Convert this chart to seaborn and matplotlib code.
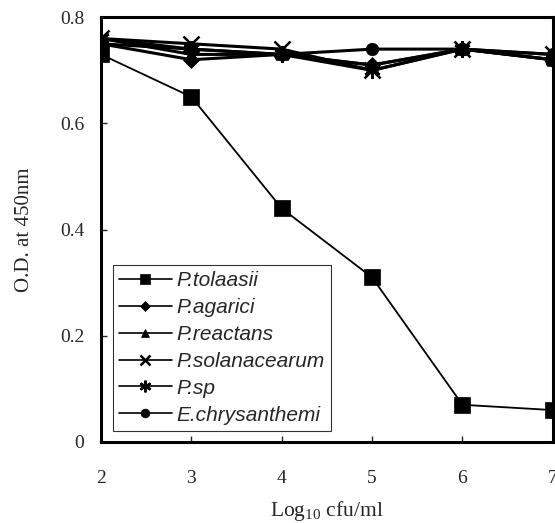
import numpy as np
import pandas as pd
import matplotlib
matplotlib.use("Agg")
import matplotlib.pyplot as plt
import seaborn as sns

# --------------------------------------------------------------
# Data
# --------------------------------------------------------------

log_cfu = [2, 3, 4, 5, 6, 7]
strains = ["P.tolaasii", "P.agarici", "P.reactans", "P.solanacearum", "P.sp", "E.chrysanthemi"]

p_tolaasii = [0.73, 0.65, 0.44, 0.31, 0.07, 0.06]
p_agarici = [0.75, 0.72, 0.73, 0.71, 0.74, 0.72]
p_reactans = [0.76, 0.73, 0.73, 0.71, 0.74, 0.72]
p_solanacearum = [0.76, 0.75, 0.74, 0.70, 0.74, 0.73]
p_sp = [0.76, 0.74, 0.73, 0.70, 0.74, 0.72]
e_chrysanthemi = [0.75, 0.74, 0.73, 0.74, 0.74, 0.73]

series = [p_tolaasii, p_agarici, p_reactans, p_solanacearum, p_sp, e_chrysanthemi]
markers = {"P.tolaasii": "s", "P.agarici": "D", "P.reactans": "^",
           "P.solanacearum": "x", "P.sp": (6, 2, 0), "E.chrysanthemi": "o"}
msizes = {"P.tolaasii": 11, "P.agarici": 8, "P.reactans": 9,
          "P.solanacearum": 11, "P.sp": 12, "E.chrysanthemi": 9}

df = pd.DataFrame({
    "log": np.tile(log_cfu, len(strains)),
    "od": np.concatenate(series),
    "strain": np.repeat(strains, len(log_cfu)),
})

# --------------------------------------------------------------
# Plot
# --------------------------------------------------------------

sns.set_style("ticks")
plt.rcParams["font.family"] = ["Liberation Serif", "DejaVu Serif"]

fig = plt.figure(figsize=(5.55, 5.23), dpi=100)
ax = fig.add_axes([0.182, 0.155, 0.814, 0.812])

for name in strains:
    sub = df[df["strain"] == name]
    lw = 1.3 if name == "P.tolaasii" else 2.2
    sns.lineplot(
        data=sub, x="log", y="od", ax=ax, color="black", label=name,
        marker=markers[name], markersize=msizes[name], linewidth=lw,
        markeredgewidth=1.8 if name in ("P.solanacearum", "P.sp") else 0.5,
        markeredgecolor="black", markerfacecolor="black",
    )

ax.set_xlim(2, 7)
ax.set_ylim(0, 0.8)
ax.set_xticks(log_cfu)
ax.set_yticks([0, 0.2, 0.4, 0.6, 0.8])
ax.set_yticklabels(["0", "0.2", "0.4", "0.6", "0.8"])
ax.tick_params(direction="in", length=4, width=1, labelsize=14)
ax.tick_params(axis="y", pad=12)
ax.tick_params(axis="x", pad=20)
for s in ax.spines.values():
    s.set_linewidth(2.2)
    s.set_color("black")

ax.set_xlabel(r"Log$_{\mathregular{10}}$ cfu/ml", fontsize=15.5, labelpad=9)
ax.set_ylabel("O.D. at 450nm", fontsize=15, labelpad=19)

leg = ax.legend(
    loc="lower left", bbox_to_anchor=(0.027, 0.026), borderaxespad=0,
    frameon=True, fancybox=False, edgecolor="black", markerscale=0.7,
    handlelength=2.5, labelspacing=0.38, borderpad=0.3, handletextpad=0.25,
    prop={"family": "Liberation Sans", "style": "italic", "size": 15},
)
leg.get_frame().set_linewidth(0.8)
for h in leg.get_lines():
    h.set_linewidth(1.2)

fig.savefig("out.png", dpi=100, facecolor="white")
